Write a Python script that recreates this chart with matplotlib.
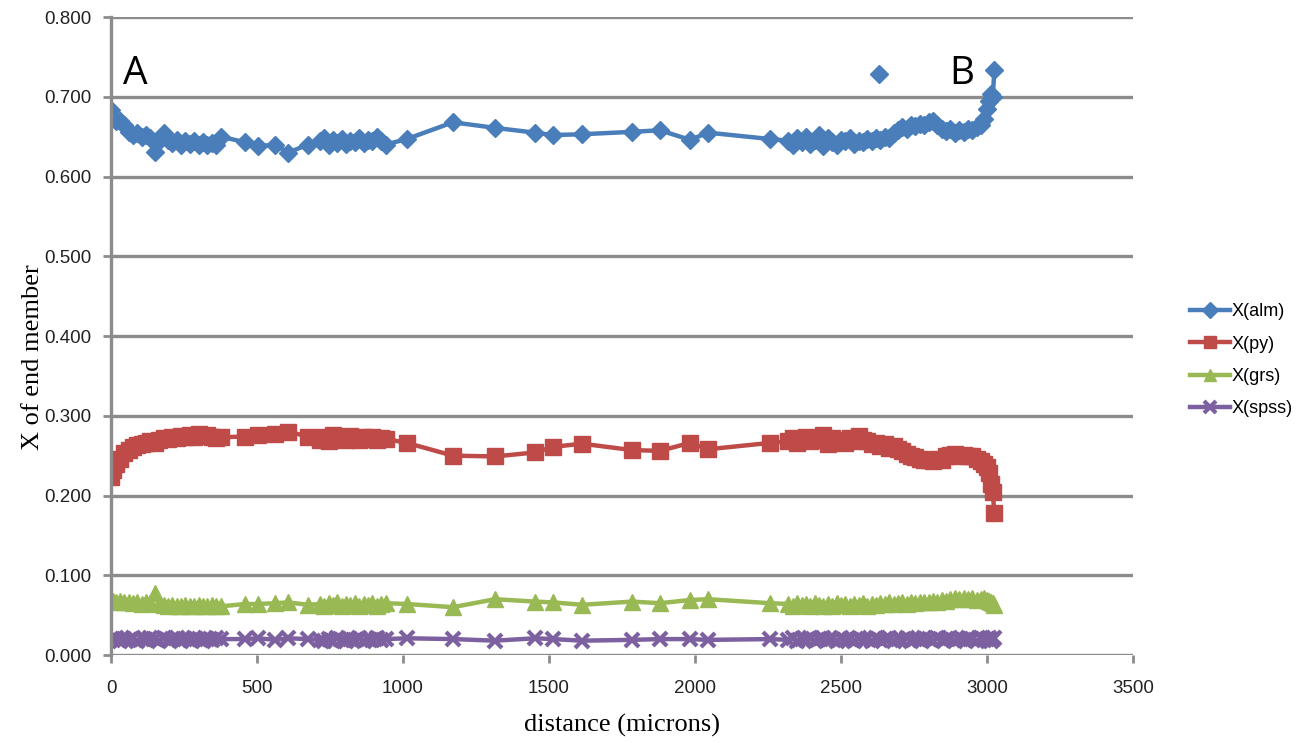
import matplotlib
matplotlib.use("Agg")
import matplotlib.pyplot as plt
from matplotlib.ticker import FormatStrFormatter

# distance along traverse (microns)
dist = [0, 8, 18, 30, 45, 60, 75, 90, 105, 120, 135, 150, 165, 180, 195, 210, 225, 240, 255, 270,
        285, 300, 315, 330, 345, 360, 375,
        459, 503, 562, 606, 675,
        716, 730, 745, 760, 775, 790, 805, 820, 835, 850, 865, 880, 895, 910, 925, 940,
        1013, 1171, 1315, 1452, 1514, 1613, 1784, 1880, 1983, 2045, 2257,
        2320, 2335, 2350, 2365, 2380, 2395, 2410, 2425, 2440, 2455, 2470, 2485, 2500, 2515, 2530,
        2545, 2560, 2575, 2590, 2605, 2620, 2635, 2650, 2665, 2680, 2695, 2710, 2725, 2740, 2755,
        2770, 2785, 2800, 2815, 2830, 2845, 2860, 2875, 2890, 2905, 2920, 2935, 2950, 2965, 2980,
        2990, 3000, 3008, 3015, 3020, 3025]

x_alm = [0.683, 0.676, 0.670, 0.669, 0.664, 0.656, 0.652, 0.655, 0.650, 0.652, 0.648, 0.631, 0.645, 0.654,
         0.646, 0.642, 0.646, 0.640, 0.645, 0.641, 0.644, 0.640, 0.643, 0.639, 0.642, 0.640, 0.650,
         0.643, 0.638, 0.640, 0.630, 0.640,
         0.644, 0.648, 0.640, 0.646, 0.642, 0.647, 0.641, 0.645, 0.643, 0.648, 0.642, 0.646, 0.644,
         0.649, 0.645, 0.640,
         0.647, 0.668, 0.661, 0.655, 0.652, 0.653, 0.656, 0.658, 0.646, 0.655, 0.647,
         0.645, 0.640, 0.648, 0.643, 0.650, 0.641, 0.646, 0.652, 0.638, 0.648, 0.643, 0.640, 0.646,
         0.644, 0.648, 0.641, 0.645, 0.643, 0.647, 0.644, 0.648, 0.646, 0.650, 0.648, 0.655, 0.658,
         0.662, 0.660, 0.664, 0.663, 0.666, 0.664, 0.668, 0.670, 0.665, 0.660, 0.657, 0.660, 0.655,
         0.658, 0.656, 0.660, 0.658, 0.662, 0.665, 0.672, 0.685, 0.695, 0.703, 0.700, 0.733]

x_py = [0.223, 0.232, 0.240, 0.246, 0.253, 0.257, 0.261, 0.263, 0.264, 0.266, 0.268, 0.266, 0.270, 0.272,
        0.271, 0.274, 0.272, 0.275, 0.273, 0.276, 0.274, 0.277, 0.275, 0.276, 0.274, 0.272, 0.273,
        0.274, 0.276, 0.277, 0.280, 0.274,
        0.270, 0.274, 0.268, 0.276, 0.271, 0.273, 0.270, 0.275, 0.272, 0.270, 0.274, 0.271, 0.273,
        0.270, 0.272, 0.271,
        0.266, 0.250, 0.249, 0.254, 0.261, 0.265, 0.257, 0.256, 0.266, 0.258, 0.266,
        0.268, 0.272, 0.266, 0.270, 0.274, 0.268, 0.272, 0.270, 0.276, 0.265, 0.272, 0.268, 0.270,
        0.266, 0.272, 0.268, 0.275, 0.270, 0.268, 0.265, 0.266, 0.262, 0.264, 0.260, 0.262, 0.258,
        0.256, 0.252, 0.250, 0.248, 0.246, 0.244, 0.245, 0.243, 0.246, 0.245, 0.249, 0.251, 0.252,
        0.250, 0.251, 0.249, 0.250, 0.246, 0.243, 0.240, 0.236, 0.228, 0.215, 0.205, 0.178]

x_grs = [0.069, 0.068, 0.067, 0.068, 0.066, 0.067, 0.065, 0.066, 0.064, 0.066, 0.065, 0.078, 0.064, 0.063,
         0.062, 0.063, 0.061, 0.062, 0.063, 0.061, 0.062, 0.063, 0.062, 0.061, 0.063, 0.062, 0.061,
         0.064, 0.064, 0.065, 0.066, 0.063,
         0.064, 0.062, 0.065, 0.063, 0.066, 0.062, 0.064, 0.063, 0.065, 0.062, 0.064, 0.063, 0.065,
         0.062, 0.064, 0.065,
         0.064, 0.060, 0.070, 0.067, 0.066, 0.063, 0.067, 0.065, 0.069, 0.070, 0.065,
         0.064, 0.062, 0.065, 0.063, 0.064, 0.062, 0.065, 0.063, 0.061, 0.064, 0.062, 0.065, 0.063,
         0.064, 0.062, 0.064, 0.063, 0.065, 0.062, 0.064, 0.063, 0.065, 0.064, 0.066, 0.064, 0.065,
         0.066, 0.064, 0.067, 0.065, 0.066, 0.067, 0.066, 0.068, 0.067, 0.069, 0.068, 0.070, 0.071,
         0.070, 0.072, 0.070, 0.071, 0.069, 0.070, 0.071, 0.069, 0.068, 0.066, 0.065, 0.063]

x_spss = [0.020, 0.019, 0.021, 0.018, 0.020, 0.019, 0.021, 0.018, 0.020, 0.019, 0.021, 0.020, 0.018, 0.021,
          0.019, 0.020, 0.021, 0.018, 0.020, 0.019, 0.021, 0.020, 0.018, 0.020, 0.019, 0.021, 0.020,
          0.020, 0.021, 0.019, 0.021, 0.020,
          0.019, 0.017, 0.020, 0.018, 0.021, 0.019, 0.018, 0.020, 0.019, 0.021, 0.018, 0.020, 0.019,
          0.021, 0.019, 0.020,
          0.021, 0.020, 0.018, 0.021, 0.020, 0.018, 0.019, 0.020, 0.020, 0.019, 0.020,
          0.019, 0.021, 0.018, 0.020, 0.019, 0.021, 0.018, 0.020, 0.021, 0.019, 0.020, 0.018, 0.021,
          0.019, 0.020, 0.018, 0.021, 0.019, 0.020, 0.018, 0.021, 0.019, 0.020, 0.021, 0.018, 0.020,
          0.019, 0.021, 0.018, 0.020, 0.019, 0.021, 0.020, 0.018, 0.021, 0.019, 0.020, 0.021, 0.018,
          0.020, 0.019, 0.021, 0.020, 0.018, 0.021, 0.019, 0.020, 0.021, 0.018, 0.020, 0.021]

# lone almandine point near B
stray_dist = [2630]
stray_alm = [0.728]

blue, red, green, purple = "#4A7EBB", "#BE4B48", "#98B954", "#7D60A0"
gridc = "#8C8C8C"

fig = plt.figure(figsize=(13.11, 7.43), dpi=100)
ax = fig.add_axes([0.0847, 0.1184, 0.7795, 0.8587])

ax.plot(dist, x_alm, color=blue, lw=3.2, marker="D", ms=9.5, label="X(alm)")
ax.plot(dist, x_py, color=red, lw=3.2, marker="s", ms=11, label="X(py)")
ax.plot(dist, x_grs, color=green, lw=3.2, marker="^", ms=11, label="X(grs)")
ax.plot(dist, x_spss, color=purple, lw=3.2, marker="x", ms=10, mew=3, label="X(spss)")
ax.plot(stray_dist, stray_alm, color=blue, ls="none", marker="D", ms=9.5)

ax.set_xlim(0, 3500)
ax.set_ylim(0, 0.8)
ax.set_xticks(range(0, 3501, 500))
ax.set_yticks([i / 10 for i in range(9)])
ax.yaxis.set_major_formatter(FormatStrFormatter("%.3f"))
ax.grid(axis="y", color=gridc, lw=2.4)
ax.set_axisbelow(True)
for s in ["top", "right", "bottom"]:
    ax.spines[s].set_visible(False)
ax.spines["left"].set_color(gridc)
ax.spines["left"].set_linewidth(2.4)
ax.tick_params(axis="both", color=gridc, width=2, length=6, labelsize=13.5, labelcolor="#222222")
ax.tick_params(axis="x", pad=12)
ax.tick_params(axis="y", pad=8)
for lab in ax.get_xticklabels() + ax.get_yticklabels():
    lab.set_family("Liberation Sans")

ax.set_xlabel("distance (microns)", family="Liberation Serif", fontsize=19, labelpad=12)
ax.set_ylabel("X of end member", family="Liberation Serif", fontsize=19, labelpad=2)
ax.yaxis.set_label_coords(-0.066, 0.467)

ax.text(82, 0.728, "A", family="Open Sans", fontsize=28, ha="center", va="center")
ax.text(2914, 0.728, "B", family="Open Sans", fontsize=28, ha="center", va="center")

leg = ax.legend(loc="center left", bbox_to_anchor=(1.04, 0.462), frameon=False,
                prop={"family": "Liberation Sans", "size": 13}, handlelength=2.2,
                handletextpad=0.1, labelspacing=0.85, markerscale=0.85)

fig.savefig("out.png", dpi=100)
